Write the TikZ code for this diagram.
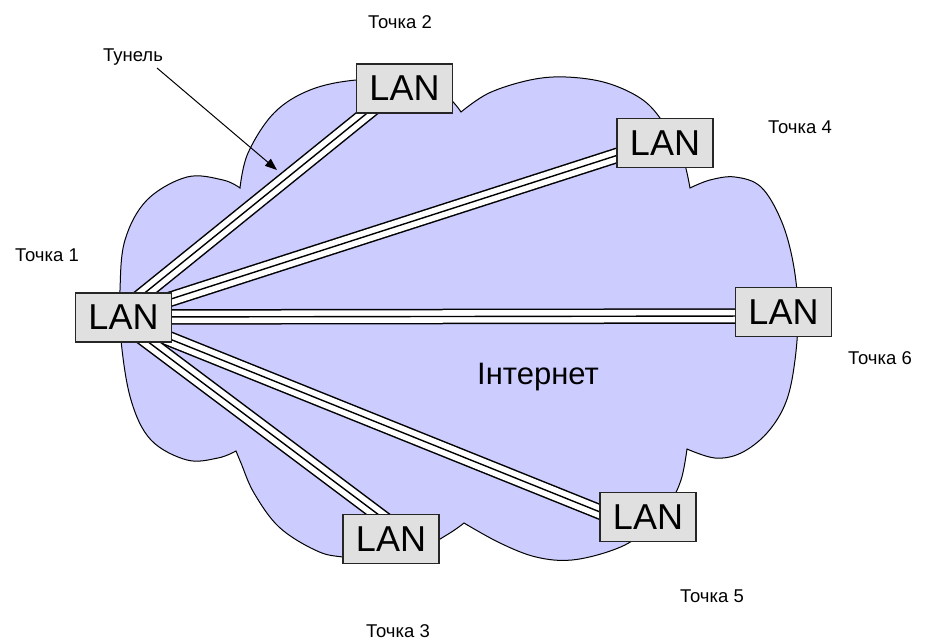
\documentclass[tikz,border=0pt]{standalone}
\usepackage{fontspec}
\setmainfont{Liberation Sans}
\usetikzlibrary{arrows.meta}
\definecolor{cloudfill}{RGB}{204,204,255}
\definecolor{lanfill}{RGB}{224,224,224}
\begin{document}
\begin{tikzpicture}[x=1pt,y=-1pt,
  lan/.style={draw=black!85, fill=lanfill, line width=1.3pt, minimum width=96pt, minimum height=49pt, inner sep=0pt, font=\fontsize{36}{36}\selectfont},
  lbl/.style={font=\fontsize{18.5}{18.5}\selectfont, inner sep=0pt},
  tunnelbody/.style={draw=black, double=white, double distance=12.5pt, line width=1.5pt},
  tunnelmid/.style={draw=black, line width=1.4pt},
  cloudline/.style={draw=black, fill=cloudfill, line width=1pt}
]
\useasboundingbox (0,0) rectangle (927,641);
\fill[white] (0,0) rectangle (927,641);

% cloud
\path[cloudline]
  plot[smooth, tension=0.6] coordinates {(236,451) (218,458) (187,460) (151,440) (131,400) (121,340) (120,290) (125,240) (147,200) (187,177) (223,180) (240,188)}
  -- plot[smooth, tension=0.6] coordinates {(240,188) (248,153) (274,113) (310,90) (356,80) (410,80) (445,95) (461,112)}
  -- plot[smooth, tension=0.6] coordinates {(461,112) (489,93) (530,80) (566,77) (607,83) (643,100) (665,125) (682,155) (690,188)}
  -- plot[smooth, tension=0.6] coordinates {(690,188) (710,180) (735,177) (761,187) (781,220) (793,262) (798,310) (795,360) (786,402) (767,433) (741,453) (715,458) (687,449)}
  -- plot[smooth, tension=0.6] coordinates {(687,449) (681,480) (668,505) (640,535) (613,550) (572,560) (536,557) (500,543) (464,523)}
  -- plot[smooth, tension=0.6] coordinates {(464,523) (445,536) (400,560) (343,557) (315,550) (279,527) (254,493) (241,463) (236,451)}
  -- cycle;

% tunnel geometry
\coordinate (o) at (115,317);
\coordinate (e2) at (387,97);
\coordinate (e4) at (640,148);
\coordinate (e6) at (760,316);
\coordinate (e5) at (620,520);
\coordinate (e3) at (399,530);

\foreach \e in {e2,e4,e6,e5,e3}{
  \draw[tunnelbody] (o) -- (\e);
  \draw[tunnelmid] (o) -- (\e);
}

% LAN boxes
\node[lan] (lan1) at (123.5,317.5) {LAN};
\node[lan] (lan2) at (404.5,88.5) {LAN};
\node[lan] (lan4) at (665,143) {LAN};
\node[lan] (lan6) at (783.5,312) {LAN};
\node[lan] (lan5) at (648,517) {LAN};
\node[lan] (lan3) at (391,539) {LAN};

% labels
\node[lbl] (t2) at (400,22) {Точка 2};
\node[lbl] (t4) at (800,127) {Точка 4};
\node[lbl] (t1) at (47,255) {Точка 1};
\node[lbl] (t6) at (880,358) {Точка 6};
\node[lbl] (t5) at (712,596) {Точка 5};
\node[lbl] (t3) at (398,631) {Точка 3};
\node[font=\fontsize{31}{31}\selectfont, inner sep=0pt] (inet) at (538,377) {Інтернет};

% tunnel label and arrow
\node[lbl] (tun) at (133,57) {Тунель};
\coordinate (ts) at (157,68);
\coordinate (tip) at (277,170);
\draw[line width=1pt, -{Triangle[length=12pt,width=9pt]}] (ts) -- (tip);
\end{tikzpicture}
\end{document}
